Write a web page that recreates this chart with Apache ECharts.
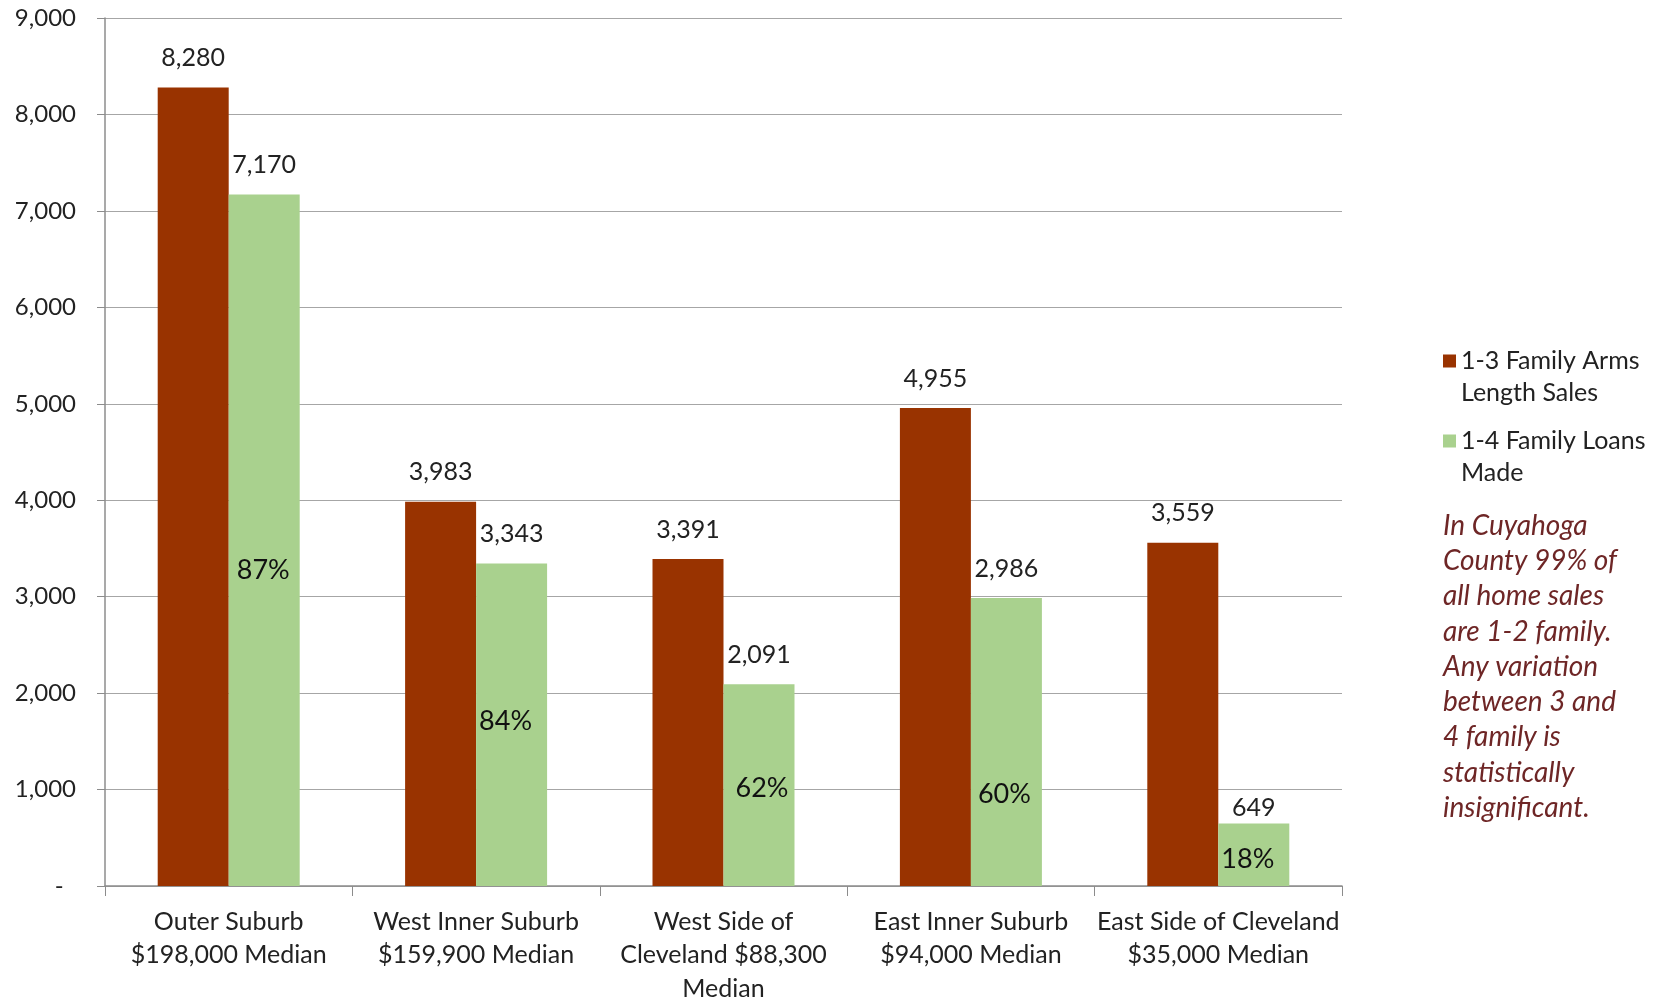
<!DOCTYPE html>
<html><head><meta charset="utf-8">
<script src="https://cdn.jsdelivr.net/npm/echarts@6/dist/echarts.min.js"></script>
<style>html,body{margin:0;padding:0;background:#fff}#c{width:1663px;height:1000px}</style>
</head><body><div id="c"></div>
<script>
const categories = [
  'Outer Suburb\n$198,000 Median',
  'West Inner Suburb\n$159,900 Median',
  'West Side of\nCleveland $88,300\nMedian',
  'East Inner Suburb\n$94,000 Median',
  'East Side of Cleveland\n$35,000 Median'
];
const seriesNames = ['1-3 Family Arms Length Sales', '1-4 Family Loans Made'];
const salesValues = [8280, 3983, 3391, 4955, 3559];
const loanValues = [7170, 3343, 2091, 2986, 649];
const loanPercents = ['87%', '84%', '62%', '60%', '18%'];
const yTicks = { min: 0, max: 9000, interval: 1000 };
const noteLines = ['In Cuyahoga', 'County 99% of', 'all home sales', 'are 1-2 family.', 'Any variation', 'between 3 and', '4 family is', 'statistically', 'insignificant.'];

// styling (label nudges in px, not data)
const pctOffsets = [[-1, 30], [-6, -3], [3, 3], [-2, 52], [-6, 5]];
const loanLabelDist = [17, 17, 17, 17, 3];
const BAR_W = 71;

const FONT = 'Lato, "Open Sans", sans-serif';
const RED = '#993300', GREEN = '#a9d18e';
const fmt = v => v.toLocaleString('en-US');

const chart = echarts.init(document.getElementById('c'));
chart.setOption({
  animation: false,
  textStyle: { fontFamily: FONT },
  grid: { left: 105, right: 321, top: 18, bottom: 114, containLabel: false, outerBoundsMode: 'none' },
  legend: {
    data: seriesNames,
    orient: 'vertical', left: 1438, top: 340, itemGap: 16,
    itemWidth: 13, itemHeight: 64,
    icon: 'path://M0,9.5h13v13h-13z M0,0h0.01v0.01h-0.01z M0,64h0.01v0.01h-0.01z',
    formatter: n => n === seriesNames[0] ? '1-3 Family Arms\nLength Sales' : '1-4 Family Loans\nMade',
    textStyle: { fontSize: 25, lineHeight: 32, color: '#222', fontFamily: FONT },
    selectedMode: false
  },
  xAxis: {
    type: 'category', data: categories,
    axisLine: { lineStyle: { color: '#8c8c8c', width: 1.5 } },
    axisTick: { show: true, length: 10, lineStyle: { color: '#8c8c8c' } },
    axisLabel: { fontSize: 25, lineHeight: 33.5, color: '#222', margin: 19, interval: 0, fontFamily: FONT }
  },
  yAxis: {
    type: 'value', min: yTicks.min, max: yTicks.max, interval: yTicks.interval,
    axisLine: { show: true, lineStyle: { color: '#8c8c8c', width: 1.5 } },
    axisTick: { show: true, inside: false, length: 8, lineStyle: { color: '#8c8c8c' } },
    splitLine: { lineStyle: { color: '#a6a6a6', width: 1.2 } },
    axisLabel: { fontSize: 24, color: '#222', margin: 29, fontFamily: FONT,
      formatter: v => v === 0 ? '-  ' : fmt(v) }
  },
  series: [
    {
      name: seriesNames[0], type: 'bar', data: salesValues,
      barWidth: BAR_W, barGap: '0%',
      itemStyle: { color: RED },
      label: { show: true, position: 'top', distance: 17, fontSize: 25, color: '#222',
        fontFamily: FONT, formatter: p => fmt(p.value) }
    },
    {
      name: seriesNames[1], type: 'bar', barWidth: BAR_W, barGap: '0%',
      data: loanValues.map((v, i) => ({ value: v, label: { distance: loanLabelDist[i] } })),
      itemStyle: { color: GREEN },
      label: { show: true, position: 'top', fontSize: 25, color: '#222',
        fontFamily: FONT, formatter: p => fmt(p.value) }
    },
    {
      name: 'pct', type: 'custom', silent: true, z: 5,
      data: loanValues.map((v, i) => [i, v]),
      renderItem: (params, api) => {
        const i = api.value(0), v = api.value(1);
        const top = api.coord([i, v]), base = api.coord([i, 0]);
        const off = pctOffsets[i];
        return {
          type: 'text',
          x: top[0] + BAR_W / 2 + off[0],
          y: (top[1] + base[1]) / 2 + off[1],
          style: { text: loanPercents[i], align: 'center', verticalAlign: 'middle',
            font: '27px ' + FONT, fill: '#111' }
        };
      }
    }
  ],
  graphic: [{
    type: 'text', left: 1443, top: 508,
    style: { text: noteLines.join('\n'), font: 'italic 28px ' + FONT, lineHeight: 35.3, fill: '#6e2626' }
  }]
});
</script></body></html>
